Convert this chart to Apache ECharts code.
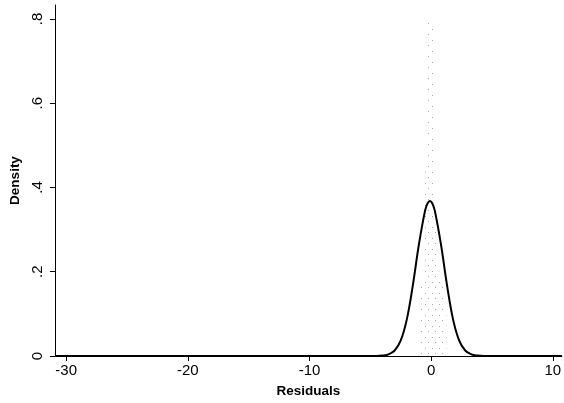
<!DOCTYPE html>
<html>
<head>
<meta charset="utf-8">
<script src="https://cdn.jsdelivr.net/npm/echarts@6/dist/echarts.min.js"></script>
<style>
html,body{margin:0;padding:0;background:#fff;}
#c{width:564px;height:403px;}
</style>
</head>
<body>
<div id="c"></div>
<script>
// Data
var xTicks = [-30, -20, -10, 0, 10];
var yTicks = [0, 0.2, 0.4, 0.6, 0.8];

// histogram bins (residual start, residual end, density)
var binStart  = [-1.0, -0.75, -0.5, -0.25, 0.0, 0.25, 0.5, 0.75, 1.0];
var binEnd    = [-0.75, -0.5, -0.25, 0.0, 0.25, 0.5, 0.75, 1.0, 1.25];
var binHeight = [0.18, 0.42, 0.45, 0.81, 0.80, 0.30, 0.20, 0.18, 0.10];

// density curve points
var curveX = [-30.9, -4.5, -4.0, -3.5, -3.0, -2.5, -2.0, -1.5, -1.0, -0.5, -0.3, -0.1, 0.1, 0.3, 0.8, 1.3, 1.8, 2.3, 2.8, 3.3, 3.8, 4.3, 10.75];
var curveY = [0, 0, 0.001, 0.004, 0.013, 0.037, 0.087, 0.169, 0.266, 0.345, 0.362, 0.368, 0.362, 0.345, 0.266, 0.169, 0.087, 0.037, 0.013, 0.004, 0.001, 0, 0];

var binData = binStart.map(function (s, i) { return [s, binEnd[i], binHeight[i]]; });
var curveData = curveX.map(function (x, i) { return [x, curveY[i]]; });

// sparse dot texture for the faint histogram fill
var pat = document.createElement('canvas');
pat.width = 7; pat.height = 11;
var pctx = pat.getContext('2d');
pctx.fillStyle = 'rgba(130,130,130,0.7)';
pctx.fillRect(1, 1, 1, 1);
pctx.fillRect(5, 7, 1, 1);

var fmt = function (v) { return v === 0 ? '0' : String(v).replace(/^0/, '').replace(/^-0/, '-'); };
var font = '"Liberation Sans", Arial, sans-serif';

var chart = echarts.init(document.getElementById('c'), null, {renderer: 'canvas'});
chart.setOption({
  animation: false,
  backgroundColor: '#fff',
  grid: {left: 47, right: 0, top: 5, bottom: 44, containLabel: false},
  xAxis: {
    type: 'value', min: -30.93, max: 10.75,
    name: 'Residuals', nameLocation: 'middle', nameGap: 28,
    nameTextStyle: {fontFamily: font, fontSize: 13.5, fontWeight: 'bold', color: '#000'},
    axisLine: {show: true, onZero: false, lineStyle: {color: '#000', width: 1}},
    axisTick: {show: true, length: 5, customValues: xTicks, lineStyle: {color: '#000'}},
    axisLabel: {customValues: xTicks, margin: 7, fontFamily: font, fontSize: 15, color: '#000'},
    splitLine: {show: false}
  },
  yAxis: {
    type: 'value', min: 0, max: 0.833,
    name: 'Density', nameLocation: 'middle', nameGap: 31, nameRotate: 90,
    nameTextStyle: {fontFamily: font, fontSize: 13.5, fontWeight: 'bold', color: '#000'},
    axisLine: {show: true, onZero: false, lineStyle: {color: '#000', width: 1}},
    axisTick: {show: true, length: 5, customValues: yTicks, lineStyle: {color: '#000'}},
    axisLabel: {customValues: yTicks, rotate: 90, margin: 10, fontFamily: font, fontSize: 15, color: '#000', formatter: fmt},
    splitLine: {show: false}
  },
  series: [
    {
      type: 'custom',
      data: binData,
      encode: {x: [0, 1], y: 2},
      renderItem: function (params, api) {
        var p0 = api.coord([api.value(0), api.value(2)]);
        var p1 = api.coord([api.value(1), 0]);
        return {
          type: 'rect',
          shape: {x: p0[0], y: p0[1], width: p1[0] - p0[0], height: p1[1] - p0[1]},
          style: {fill: {image: pat, repeat: 'repeat'}, stroke: null}
        };
      },
      z: 1
    },
    {
      type: 'line',
      data: curveData,
      smooth: 0.4,
      showSymbol: false,
      lineStyle: {color: '#000', width: 2},
      z: 3
    }
  ]
});
</script>
</body>
</html>
